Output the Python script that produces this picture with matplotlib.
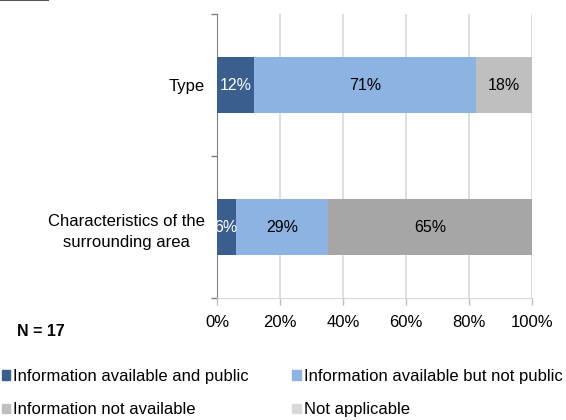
import matplotlib.pyplot as plt
from matplotlib.lines import Line2D
from matplotlib.patches import Patch

plt.rcParams['font.family'] = ['Liberation Sans', 'DejaVu Sans']

n_total = 17
categories = ['Type', 'Characteristics of the\nsurrounding area']
series = ['Information available and public', 'Information available but not public',
          'Information not available', 'Not applicable']
# counts of respondents per category, out of N
counts = {
    'Information available and public': [2, 1],
    'Information available but not public': [12, 5],
    'Information not available': [3, 11],
    'Not applicable': [0, 0],
}
colors = ['#3a5f8f', '#8db3e2', '#bfbfbf', '#d9d9d9']
# the third segment is shaded differently in each bar
third_colors = ['#bfbfbf', '#a6a6a6']
label_colors = ['white', 'black', 'black', 'black']

fig = plt.figure(figsize=(5.66, 4.2), dpi=100)
ax = fig.add_axes([217 / 566, 1 - 298 / 420, 315 / 566, 284 / 420])

ypos = [0, 1]
left = [0.0, 0.0]
for i, s in enumerate(series):
    vals = [c / n_total * 100 for c in counts[s]]
    cols = third_colors if i == 2 else [colors[i]] * len(vals)
    ax.barh(ypos, vals, left=left, height=0.4, color=cols, zorder=3)
    for y, v, l in zip(ypos, vals, left):
        if v > 0:
            ax.text(l + v / 2, y, f'{v:.0f}%', ha='center', va='center',
                    fontsize=11.5, color=label_colors[i], zorder=4)
    left = [l + v for l, v in zip(left, vals)]

ax.set_xlim(0, 100)
ax.set_ylim(1.5, -0.5)
ax.set_xticks(range(0, 101, 20))
ax.set_xticklabels([f'{t}%' for t in range(0, 101, 20)], fontsize=12)
ax.set_yticks(ypos)
ax.set_yticklabels(categories, fontsize=12, ha='right', multialignment='center',
                   linespacing=1.55)
ax.tick_params(axis='y', length=0, pad=9)
ax.set_yticks([-0.5, 0.5, 1.5], minor=True)
ax.tick_params(axis='y', which='minor', length=4, color='#808080', width=1)
ax.tick_params(axis='x', length=5, color='#bfbfbf', width=1, pad=7)
ax.grid(axis='x', color='#d9d9d9', linewidth=1.2, zorder=0)
for side in ['top', 'right']:
    ax.spines[side].set_visible(False)
ax.spines['left'].set_color('#808080')
ax.spines['bottom'].set_color('#d9d9d9')

fig.text(17 / 566, 1 - 331 / 420, 'N = 17', fontsize=11.5, fontweight='bold', va='center')

# legend fills row by row: reorder so matplotlib's column fill reads that way
order = [0, 2, 1, 3]
handles = [Patch(color=colors[k]) for k in order]
labels = [series[k] for k in order]
fig.legend(handles, labels, loc='upper left', bbox_to_anchor=(0.003, 1 - 369 / 420), ncol=2,
           frameon=False, fontsize=12, handlelength=0.5, handleheight=0.5,
           handletextpad=0.2, columnspacing=2.6, labelspacing=1.1, borderaxespad=0,
           borderpad=0)

fig.add_artist(Line2D([0, 48 / 566], [0.999, 0.999], color='#555555', linewidth=1.5))

fig.savefig('out.png', dpi=100)
